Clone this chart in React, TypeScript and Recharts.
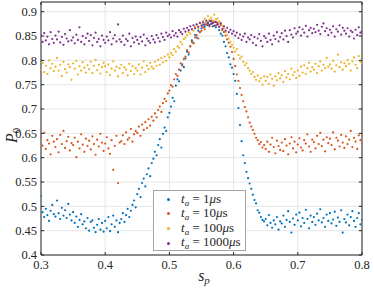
import { ScatterChart, Scatter, XAxis, YAxis, CartesianGrid, ReferenceArea, ReferenceLine, Legend } from 'recharts';

// sweep positions s_p
const sp = [
  0.3, 0.3025, 0.305, 0.3075, 0.31, 0.3125, 0.315, 0.3175, 0.32, 0.3225,
  0.325, 0.3275, 0.33, 0.3325, 0.335, 0.3375, 0.34, 0.3425, 0.345, 0.3475,
  0.35, 0.3525, 0.355, 0.3575, 0.36, 0.3625, 0.365, 0.3675, 0.37, 0.3725,
  0.375, 0.3775, 0.38, 0.3825, 0.385, 0.3875, 0.39, 0.3925, 0.395, 0.3975,
  0.4, 0.4025, 0.405, 0.4075, 0.41, 0.4125, 0.415, 0.4175, 0.42, 0.4225,
  0.425, 0.4275, 0.43, 0.4325, 0.435, 0.4375, 0.44, 0.4425, 0.445, 0.4475,
  0.45, 0.4525, 0.455, 0.4575, 0.46, 0.4625, 0.465, 0.4675, 0.47, 0.4725,
  0.475, 0.4775, 0.48, 0.4825, 0.485, 0.4875, 0.49, 0.4925, 0.495, 0.4975,
  0.5, 0.5025, 0.505, 0.5075, 0.51, 0.5125, 0.515, 0.5175, 0.52, 0.5225,
  0.525, 0.5275, 0.53, 0.5325, 0.535, 0.5375, 0.54, 0.5425, 0.545, 0.5475,
  0.55, 0.5525, 0.555, 0.5575, 0.56, 0.5625, 0.565, 0.5675, 0.57, 0.5725,
  0.575, 0.5775, 0.58, 0.5825, 0.585, 0.5875, 0.59, 0.5925, 0.595, 0.5975,
  0.6, 0.6025, 0.605, 0.6075, 0.61, 0.6125, 0.615, 0.6175, 0.62, 0.6225,
  0.625, 0.6275, 0.63, 0.6325, 0.635, 0.6375, 0.64, 0.6425, 0.645, 0.6475,
  0.65, 0.6525, 0.655, 0.6575, 0.66, 0.6625, 0.665, 0.6675, 0.67, 0.6725,
  0.675, 0.6775, 0.68, 0.6825, 0.685, 0.6875, 0.69, 0.6925, 0.695, 0.6975,
  0.7, 0.7025, 0.705, 0.7075, 0.71, 0.7125, 0.715, 0.7175, 0.72, 0.7225,
  0.725, 0.7275, 0.73, 0.7325, 0.735, 0.7375, 0.74, 0.7425, 0.745, 0.7475,
  0.75, 0.7525, 0.755, 0.7575, 0.76, 0.7625, 0.765, 0.7675, 0.77, 0.7725,
  0.775, 0.7775, 0.78, 0.7825, 0.785, 0.7875, 0.79, 0.7925, 0.795, 0.7975,
  0.8,
];

// P_0 for t_a = 1 us
const t1us = [
  0.521, 0.488, 0.478, 0.495, 0.482, 0.470, 0.491, 0.503, 0.484, 0.479,
  0.512, 0.486, 0.474, 0.497, 0.481, 0.492, 0.476, 0.505, 0.483, 0.471,
  0.488, 0.466, 0.479, 0.458, 0.472, 0.484, 0.463, 0.469, 0.455, 0.476,
  0.450, 0.468, 0.471, 0.456, 0.447, 0.462, 0.474, 0.452, 0.466, 0.448,
  0.470, 0.455, 0.478, 0.449, 0.463, 0.481, 0.458, 0.471, 0.447, 0.466,
  0.474, 0.486, 0.468, 0.482, 0.495, 0.478, 0.491, 0.503, 0.512, 0.498,
  0.525, 0.536, 0.519, 0.548, 0.557, 0.541, 0.566, 0.578, 0.562, 0.589,
  0.598, 0.612, 0.605, 0.626, 0.638, 0.621, 0.649, 0.662, 0.655, 0.683,
  0.692, 0.705, 0.723, 0.716, 0.748, 0.761, 0.757, 0.779, 0.792, 0.786,
  0.804, 0.818, 0.812, 0.829, 0.841, 0.836, 0.852, 0.847, 0.861, 0.858,
  0.866, 0.873, 0.869, 0.878, 0.872, 0.881, 0.875, 0.870, 0.879, 0.868,
  0.874, 0.862, 0.855, 0.851, 0.838, 0.829, 0.815, 0.806, 0.792, 0.785,
  0.772, 0.758, 0.731, 0.702, 0.667, 0.634, 0.605, 0.589, 0.571, 0.558,
  0.547, 0.536, 0.524, 0.513, 0.506, 0.492, 0.487, 0.478, 0.472, 0.469,
  0.474, 0.461, 0.482, 0.466, 0.456, 0.471, 0.463, 0.478, 0.452, 0.469,
  0.465, 0.481, 0.458, 0.472, 0.490, 0.468, 0.446, 0.475, 0.462, 0.483,
  0.471, 0.487, 0.459, 0.476, 0.466, 0.493, 0.474, 0.455, 0.481, 0.468,
  0.478, 0.462, 0.485, 0.471, 0.494, 0.467, 0.476, 0.458, 0.483, 0.470,
  0.486, 0.465, 0.473, 0.489, 0.460, 0.477, 0.468, 0.492, 0.446, 0.474,
  0.467, 0.483, 0.461, 0.478, 0.490, 0.470, 0.458, 0.476, 0.486, 0.463,
  0.472,
];

// P_0 for t_a = 10 us
const t10us = [
  0.642, 0.625, 0.651, 0.618, 0.636, 0.629, 0.607, 0.645, 0.633, 0.622,
  0.638, 0.611, 0.647, 0.628, 0.655, 0.620, 0.634, 0.643, 0.615, 0.630,
  0.626, 0.641, 0.601, 0.633, 0.619, 0.648, 0.627, 0.612, 0.639, 0.624,
  0.635, 0.617, 0.644, 0.628, 0.606, 0.637, 0.623, 0.649, 0.631, 0.614,
  0.629, 0.642, 0.619, 0.608, 0.636, 0.575, 0.624, 0.645, 0.548, 0.631,
  0.634, 0.646, 0.628, 0.652, 0.637, 0.641, 0.659, 0.633, 0.648, 0.655,
  0.651, 0.664, 0.645, 0.668, 0.657, 0.673, 0.661, 0.679, 0.666, 0.684,
  0.676, 0.691, 0.683, 0.698, 0.705, 0.694, 0.712, 0.721, 0.716, 0.732,
  0.738, 0.749, 0.746, 0.761, 0.772, 0.768, 0.781, 0.794, 0.789, 0.803,
  0.808, 0.821, 0.816, 0.829, 0.838, 0.835, 0.847, 0.852, 0.845, 0.858,
  0.861, 0.868, 0.864, 0.873, 0.878, 0.870, 0.882, 0.876, 0.879, 0.872,
  0.877, 0.869, 0.873, 0.862, 0.858, 0.851, 0.843, 0.836, 0.828, 0.817,
  0.803, 0.788, 0.771, 0.758, 0.743, 0.729, 0.716, 0.704, 0.695, 0.683,
  0.672, 0.664, 0.657, 0.649, 0.641, 0.636, 0.628, 0.632, 0.621, 0.626,
  0.618, 0.633, 0.612, 0.627, 0.641, 0.622, 0.609, 0.635, 0.624, 0.616,
  0.631, 0.614, 0.638, 0.625, 0.607, 0.629, 0.642, 0.619, 0.633, 0.611,
  0.627, 0.640, 0.621, 0.615, 0.636, 0.629, 0.648, 0.623, 0.612, 0.637,
  0.632, 0.619, 0.645, 0.628, 0.651, 0.624, 0.637, 0.613, 0.642, 0.630,
  0.639, 0.626, 0.652, 0.617, 0.641, 0.635, 0.623, 0.647, 0.631, 0.620,
  0.644, 0.628, 0.637, 0.655, 0.622, 0.641, 0.633, 0.618, 0.646, 0.636,
  0.629,
];

// P_0 for t_a = 100 us
const t100us = [
  0.781, 0.795, 0.776, 0.789, 0.772, 0.800, 0.784, 0.793, 0.778, 0.787,
  0.805, 0.779, 0.791, 0.768, 0.797, 0.782, 0.775, 0.792, 0.786, 0.760,
  0.794, 0.783, 0.799, 0.771, 0.788, 0.779, 0.796, 0.785, 0.775, 0.790,
  0.782, 0.797, 0.774, 0.789, 0.801, 0.780, 0.791, 0.773, 0.786, 0.795,
  0.788, 0.776, 0.792, 0.770, 0.783, 0.798, 0.779, 0.787, 0.767, 0.784,
  0.791, 0.774, 0.786, 0.781, 0.769, 0.793, 0.778, 0.788, 0.772, 0.784,
  0.779, 0.792, 0.771, 0.785, 0.798, 0.776, 0.789, 0.782, 0.795, 0.787,
  0.783, 0.797, 0.789, 0.801, 0.791, 0.805, 0.796, 0.808, 0.799, 0.812,
  0.806, 0.815, 0.811, 0.823, 0.818, 0.829, 0.826, 0.838, 0.833, 0.844,
  0.847, 0.852, 0.858, 0.855, 0.864, 0.861, 0.869, 0.873, 0.866, 0.877,
  0.874, 0.881, 0.886, 0.879, 0.891, 0.884, 0.888, 0.882, 0.894, 0.885,
  0.886, 0.880, 0.877, 0.871, 0.866, 0.858, 0.852, 0.845, 0.838, 0.832,
  0.826, 0.818, 0.823, 0.811, 0.804, 0.808, 0.797, 0.790, 0.794, 0.784,
  0.779, 0.772, 0.776, 0.766, 0.760, 0.769, 0.757, 0.763, 0.750, 0.767,
  0.758, 0.766, 0.752, 0.771, 0.762, 0.748, 0.767, 0.759, 0.774, 0.763,
  0.769, 0.756, 0.778, 0.765, 0.772, 0.761, 0.783, 0.770, 0.776, 0.764,
  0.779, 0.768, 0.787, 0.775, 0.790, 0.772, 0.784, 0.795, 0.777, 0.786,
  0.781, 0.793, 0.774, 0.788, 0.798, 0.779, 0.791, 0.784, 0.805, 0.787,
  0.792, 0.783, 0.799, 0.777, 0.790, 0.812, 0.786, 0.796, 0.781, 0.794,
  0.788, 0.801, 0.793, 0.779, 0.798, 0.806, 0.791, 0.784, 0.809, 0.797,
  0.794,
];

// P_0 for t_a = 1000 us
const t1000us = [
  0.852, 0.838, 0.856, 0.841, 0.849, 0.833, 0.858, 0.844, 0.836, 0.851,
  0.843, 0.859, 0.837, 0.848, 0.832, 0.854, 0.845, 0.839, 0.862, 0.841,
  0.847, 0.835, 0.853, 0.842, 0.868, 0.838, 0.850, 0.833, 0.846, 0.855,
  0.840, 0.852, 0.831, 0.846, 0.857, 0.838, 0.844, 0.829, 0.851, 0.842,
  0.836, 0.849, 0.841, 0.858, 0.833, 0.845, 0.852, 0.839, 0.874, 0.843,
  0.838, 0.851, 0.832, 0.844, 0.840, 0.855, 0.829, 0.846, 0.837, 0.849,
  0.842, 0.834, 0.848, 0.839, 0.853, 0.831, 0.845, 0.840, 0.836, 0.850,
  0.843, 0.837, 0.852, 0.846, 0.839, 0.855, 0.848, 0.842, 0.857, 0.850,
  0.853, 0.847, 0.860, 0.851, 0.856, 0.849, 0.862, 0.858, 0.854, 0.865,
  0.859, 0.867, 0.862, 0.870, 0.864, 0.872, 0.866, 0.874, 0.869, 0.877,
  0.871, 0.878, 0.874, 0.882, 0.876, 0.873, 0.880, 0.877, 0.871, 0.879,
  0.874, 0.869, 0.876, 0.865, 0.870, 0.861, 0.867, 0.858, 0.863, 0.855,
  0.860, 0.851, 0.857, 0.846, 0.853, 0.842, 0.849, 0.855, 0.838, 0.847,
  0.843, 0.852, 0.836, 0.848, 0.831, 0.845, 0.854, 0.840, 0.829, 0.850,
  0.846, 0.838, 0.855, 0.842, 0.833, 0.851, 0.844, 0.858, 0.839, 0.848,
  0.856, 0.843, 0.861, 0.850, 0.838, 0.862, 0.853, 0.847, 0.866, 0.855,
  0.859, 0.868, 0.851, 0.864, 0.857, 0.871, 0.849, 0.862, 0.867, 0.856,
  0.865, 0.858, 0.873, 0.861, 0.854, 0.869, 0.876, 0.860, 0.866, 0.852,
  0.863, 0.857, 0.870, 0.849, 0.864, 0.859, 0.872, 0.853, 0.867, 0.861,
  0.855, 0.866, 0.849, 0.861, 0.858, 0.845, 0.863, 0.852, 0.868, 0.857,
  0.860,
];

const seriesNames = ['1', '10', '100', '1000'];
const colors = ['#0072BD', '#D95319', '#EDB120', '#7E2F8E'];
const xTicks = [0.3, 0.4, 0.5, 0.6, 0.7, 0.8];
const yTicks = [0.4, 0.45, 0.5, 0.55, 0.6, 0.65, 0.7, 0.75, 0.8, 0.85, 0.9];

const series = [t1us, t10us, t100us, t1000us].map((vals) =>
  sp.map((s, i) => ({ sp: s, p0: vals[i] }))
);

const tickFont = { fontFamily: 'Liberation Serif', fontSize: 12.5, fill: '#262626' };

const renderLegend = (props: any) => (
  <div
    style={{
      boxSizing: 'border-box',
      background: '#fff',
      border: '1px solid #a6a6a6',
      padding: '1px 0',
      fontFamily: 'Liberation Serif',
      fontSize: 13,
      color: '#262626',
      lineHeight: '14.6px',
      width: 93,
      height: 61,
    }}
  >
    {(props.payload || []).map((e: any, i: number) => (
      <div key={i} style={{ display: 'flex', alignItems: 'center', height: 14.6, whiteSpace: 'nowrap' }}>
        <span
          style={{
            display: 'inline-block',
            flexShrink: 0,
            width: 3,
            height: 3,
            borderRadius: '50%',
            background: e.color,
            marginLeft: 13,
            marginRight: 11,
          }}
        />
        <span style={{ flexShrink: 0 }}>
          <i>t</i>
          <i style={{ fontSize: 9, position: 'relative', top: 3 }}>a</i> = {e.value}
          <i>μ</i>s
        </span>
      </div>
    ))}
  </div>
);

export default function App() {
  return (
    <div style={{ position: 'absolute', left: 0, top: 0, width: 374, height: 288, background: '#fff' }}>
      <ScatterChart width={374} height={288} margin={{ top: 2, right: 12, bottom: 0, left: 0 }}>
        <CartesianGrid stroke="#e6e6e6" horizontal vertical />
        <XAxis
          type="number"
          dataKey="sp"
          domain={[0.3, 0.8]}
          ticks={xTicks}
          allowDataOverflow
          axisLine={false}
          tickLine={false}
          tickSize={3}
          tickMargin={2}
          height={33}
          tick={tickFont}
          tickFormatter={(v: number) => String(v)}
        />
        <YAxis
          type="number"
          dataKey="p0"
          domain={[0.4, 0.92]}
          ticks={yTicks}
          allowDataOverflow
          axisLine={false}
          tickLine={false}
          tickSize={2}
          tickMargin={2}
          width={41}
          tick={tickFont}
          tickFormatter={(v: number) => String(Number(v.toFixed(2)))}
        />
        {series.map((data, i) => (
          <Scatter
            key={seriesNames[i]}
            name={seriesNames[i]}
            data={data}
            fill={colors[i]}
            isAnimationActive={false}
            shape={(p: any) => <circle cx={p.cx} cy={p.cy} r={1.1} fill={colors[i]} />}
          />
        ))}
        {xTicks.map((t) => (
          <ReferenceLine key={'xb' + t} segment={[{ x: t, y: 0.4 }, { x: t, y: 0.406 }]} stroke="#262626" />
        ))}
        {xTicks.map((t) => (
          <ReferenceLine key={'xt' + t} segment={[{ x: t, y: 0.92 }, { x: t, y: 0.914 }]} stroke="#262626" />
        ))}
        {yTicks.map((t) => (
          <ReferenceLine key={'yl' + t} segment={[{ x: 0.3, y: t }, { x: 0.305, y: t }]} stroke="#262626" />
        ))}
        {yTicks.map((t) => (
          <ReferenceLine key={'yr' + t} segment={[{ x: 0.8, y: t }, { x: 0.795, y: t }]} stroke="#262626" />
        ))}
        <ReferenceArea x1={0.3} x2={0.8} y1={0.4} y2={0.92} fill="none" stroke="#262626" strokeWidth={1} ifOverflow="visible" />
        <Legend
          content={renderLegend}
          layout="vertical"
          align="center"
          verticalAlign="middle"
          wrapperStyle={{ left: 153, top: 190, width: 93, height: 61 }}
        />
      </ScatterChart>
      <svg
        width={374}
        height={288}
        style={{ position: 'absolute', left: 0, top: 0, pointerEvents: 'none' }}
      >
        <g transform="translate(17 143) rotate(-90)">
          <text x={0} y={0} fontFamily="Liberation Serif" fontSize={16} fill="#262626">
            <tspan fontStyle="italic">P</tspan>
            <tspan fontSize={11} dy={3}>0</tspan>
          </text>
        </g>
        <text x={204} y={281} fontFamily="Liberation Serif" fontSize={16} fill="#262626" textAnchor="middle">
          <tspan fontStyle="italic">s</tspan>
          <tspan fontStyle="italic" fontSize={11} dy={3}>p</tspan>
        </text>
      </svg>
    </div>
  );
}
